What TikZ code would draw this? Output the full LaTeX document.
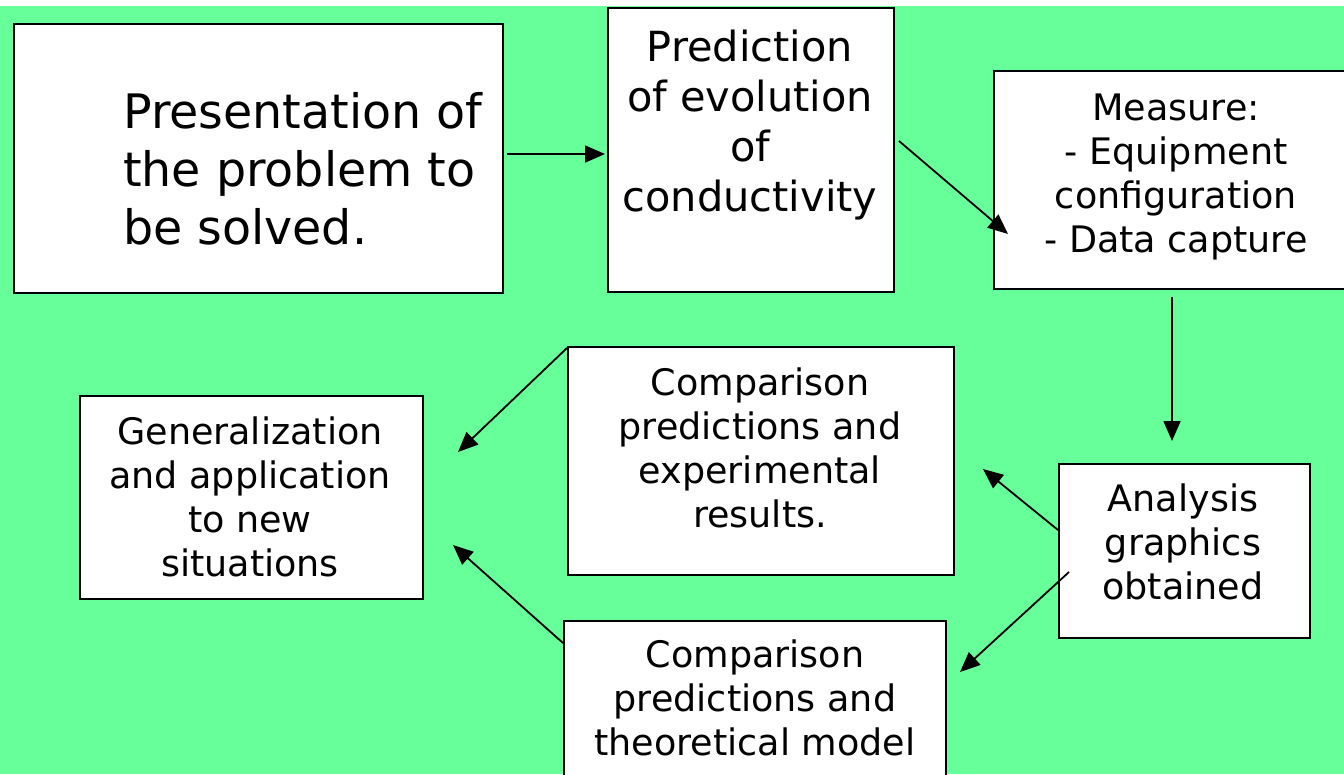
\documentclass[tikz,border=0pt]{standalone}
\usepackage{fontspec}
\setmainfont{DejaVu Sans}
\usetikzlibrary{arrows.meta,calc}
\definecolor{bggreen}{RGB}{102,255,153}
\tikzset{
  boxnode/.style={draw=black, line width=2pt, fill=white, inner sep=0pt, anchor=north west},
  txt/.style={align=center, inner sep=0pt, font=\fontsize{36.5}{44}\selectfont},
  conn/.style={line width=1.8pt, -{Triangle[length=20pt,width=17pt]}},
}
\newcommand{\mybox}[5]{% name, x1, y1, x2, y2
  \node[boxnode, minimum width=#4pt-#2pt, minimum height=#5pt-#3pt] (#1) at (#2,#3) {};}
\begin{document}
\begin{tikzpicture}[x=1pt,y=-1pt]
\useasboundingbox (0,0) rectangle (1344,774);
\fill[white] (0,0) rectangle (1344,774);
\fill[bggreen] (0,6) rectangle (1344,774);
\begin{scope}
\clip (0,0) rectangle (1344,774);
% boxes
\mybox{A}{13}{23}{502}{292}
\mybox{B}{607}{7}{893}{291}
\mybox{C}{993}{70}{1359}{288}
\mybox{D}{567}{346}{953}{574}
\mybox{E}{79}{395}{422}{598}
\mybox{F}{1058}{463}{1309}{637}
\mybox{G}{563}{620}{945}{800}
% texts
\node[txt, align=left, anchor=west, font=\fontsize{47.5}{58}\selectfont] (tA) at (123,169) {Presentation of\\the problem to\\be solved.};
\node[txt, font=\fontsize{41.5}{50}\selectfont] (tB) at (750,125) {Prediction\\of evolution\\of\\conductivity};
\node[txt] (tC) at (1176,177) {Measure:\\- Equipment\\configuration\\- Data capture};
\node[txt] (tD) at (760,448) {Comparison\\predictions and\\experimental\\results.};
\node[txt] (tE) at (250,497) {Generalization\\and application\\to new\\situations};
\node[txt] (tF) at (1183,542) {Analysis\\graphics\\obtained};
\node[txt] (tG) at (755,698) {Comparison\\predictions and\\theoretical model};
% connectors
\draw[conn] ($(A.east)+(3,-4.5)$) -- ($(B.west)+(-2,4)$);
\draw[conn] ($(B.east)+(4,-9)$) -- ($(C.west)+(15,54)$);
\draw[conn] ($(C.south)+(-5,7)$) -- ($(F.north)+(-12.5,-22)$);
\draw[conn] ($(F.west)+(0,-21)$) -- ($(D.east)+(28,8)$);
\draw[conn] ($(F.west)+(11,21)$) -- ($(G.north east)+(13,52)$);
\draw[conn] ($(D.north west)+(0,2)$) -- ($(E.east)+(34,-45.5)$);
\draw[conn] ($(G.north west)+(0,23)$) -- ($(E.east)+(29,47.5)$);
\end{scope}
\end{tikzpicture}
\end{document}
